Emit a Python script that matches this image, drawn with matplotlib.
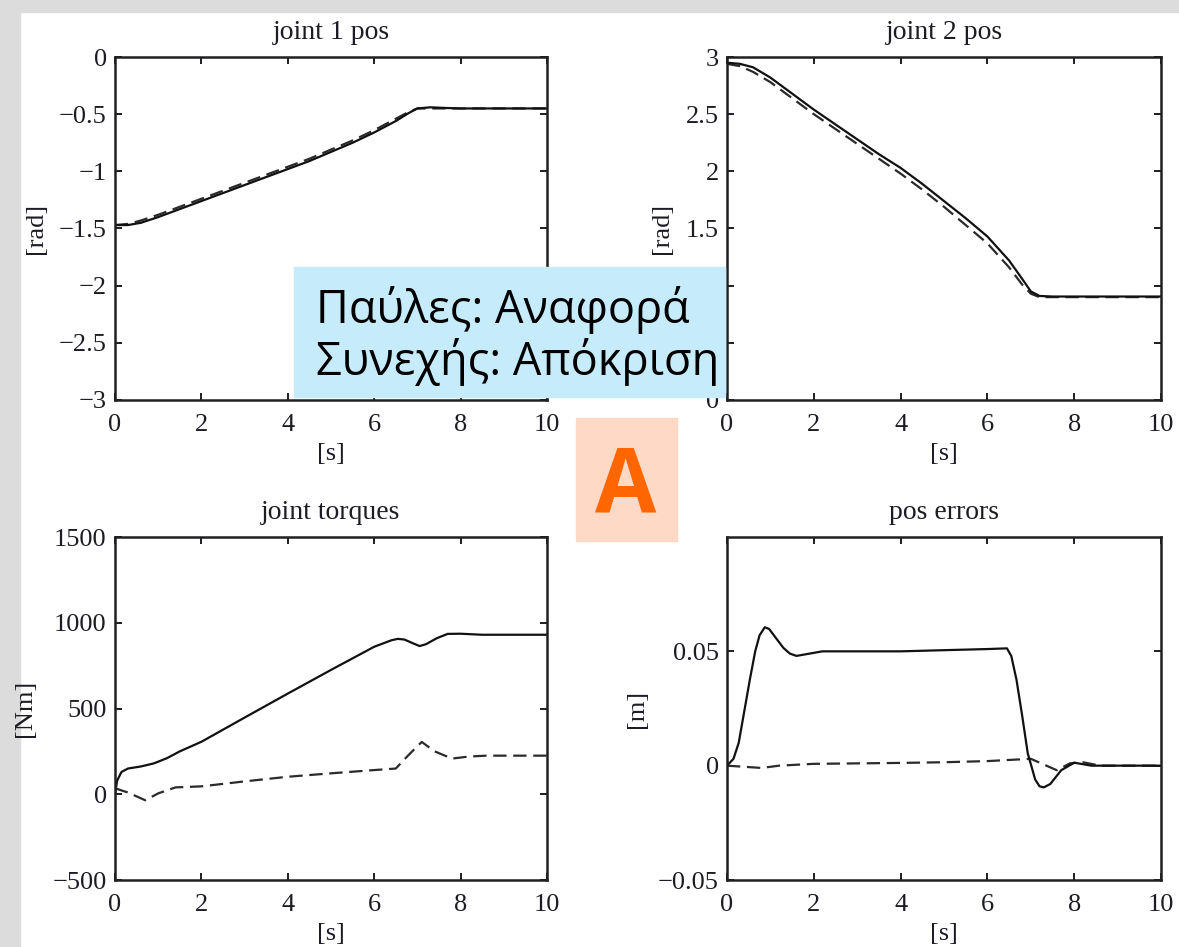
import numpy as np
import matplotlib
matplotlib.use("Agg")
import matplotlib.pyplot as plt
from matplotlib.patches import Rectangle
from matplotlib.ticker import FuncFormatter

W, H = 1179, 947

# joint 1 position [rad]
t_j1 = [0, 0.3, 0.6, 1.0, 1.5, 2.0, 2.5, 3.0, 3.5, 4.0, 4.5, 5.0, 5.5, 6.0, 6.5, 6.8, 7.0, 7.3, 7.6, 8.0, 10]
j1_resp = [-1.47, -1.47, -1.45, -1.40, -1.33, -1.26, -1.19, -1.12, -1.05, -0.98, -0.91, -0.83, -0.75, -0.66,
           -0.56, -0.49, -0.45, -0.44, -0.445, -0.45, -0.45]
j1_ref = [-1.47, -1.46, -1.43, -1.38, -1.31, -1.24, -1.17, -1.10, -1.03, -0.96, -0.89, -0.81, -0.73, -0.64,
          -0.54, -0.48, -0.45, -0.45, -0.45, -0.45, -0.45]

# joint 2 position [rad]
t_j2 = [0, 0.3, 0.6, 1.0, 1.5, 2.0, 2.5, 3.0, 3.5, 4.0, 4.5, 5.0, 5.5, 6.0, 6.5, 6.8, 7.0, 7.2, 7.5, 8.0, 10]
j2_resp = [2.95, 2.94, 2.91, 2.82, 2.68, 2.54, 2.41, 2.28, 2.15, 2.03, 1.89, 1.74, 1.59, 1.43, 1.22, 1.06,
           0.95, 0.91, 0.905, 0.905, 0.905]
j2_ref = [2.94, 2.92, 2.87, 2.78, 2.64, 2.50, 2.37, 2.24, 2.11, 1.98, 1.84, 1.69, 1.53, 1.37, 1.16, 1.01,
          0.93, 0.90, 0.90, 0.90, 0.90]

# joint torques [Nm]
t_tq1 = [0, 0.05, 0.15, 0.3, 0.6, 0.9, 1.2, 1.5, 2, 3, 4, 5, 6, 6.4, 6.55, 6.7, 6.9, 7.05, 7.2, 7.45, 7.7, 8.0, 8.5, 10]
tq1 = [0, 80, 130, 150, 162, 180, 210, 250, 306, 447, 587, 725, 860, 898, 906, 902, 880, 864, 875, 910,
       935, 936, 930, 930]
t_tq2 = [0, 0.3, 0.7, 1.0, 1.4, 2, 3, 4, 5, 6, 6.5, 6.8, 7.1, 7.4, 7.8, 8.2, 8.6, 10]
tq2 = [35, 10, -35, 5, 40, 46, 75, 102, 122, 141, 150, 230, 305, 250, 208, 220, 225, 225]

# position errors [m]
t_e1 = [0, 0.15, 0.27, 0.4, 0.53, 0.65, 0.75, 0.87, 0.97, 1.1, 1.3, 1.45, 1.6, 1.9, 2.2, 3, 4, 5, 6, 6.45,
        6.55, 6.67, 6.8, 6.93, 7.1, 7.2, 7.3, 7.45, 7.7, 8.0, 8.4, 10]
e1 = [0, 0.003, 0.010, 0.024, 0.038, 0.050, 0.057, 0.0605, 0.0598, 0.0565, 0.0515, 0.049, 0.048, 0.049,
      0.050, 0.050, 0.050, 0.0505, 0.051, 0.0513, 0.048, 0.0376, 0.022, 0.0054, -0.006, -0.009, -0.0095,
      -0.008, -0.002, 0.0013, 0.0, 0.0]
t_e2 = [0, 0.4, 0.8, 1.2, 2, 3, 4, 5, 6, 6.5, 7.0, 7.3, 7.6, 7.9, 8.2, 8.6, 10]
e2 = [0, -0.0005, -0.001, 0.0, 0.0008, 0.001, 0.0012, 0.0015, 0.002, 0.0025, 0.003, 0.0005, -0.002,
      0.001, 0.0015, 0.0, 0.0]

plt.rcParams['font.family'] = ['Liberation Serif', 'DejaVu Serif']

fig = plt.figure(figsize=(W / 100, H / 100), dpi=100, facecolor='white')

def px_axes(x0, y0, x1, y1):
    # pixel box -> figure fraction rect
    return [x0 / W, 1 - y1 / H, (x1 - x0) / W, (y1 - y0) / H]

ink = '#1c1c24'

# MATLAB-ish tick labels, real minus sign
def fmt(v, pos):
    return ('%g' % v).replace('-', '\u2212')

def style(ax, title, ylab, ylim, yticks, ylab_x, hide=()):
    ax.set_xlim(0, 10)
    ax.set_ylim(*ylim)
    ax.set_xticks([0, 2, 4, 6, 8, 10])
    ax.set_yticks(yticks)
    ax.yaxis.set_major_formatter(FuncFormatter(lambda v, p: '' if v in hide else fmt(v, p)))
    ax.tick_params(direction='in', top=True, right=True, length=5, width=1.4,
                   labelsize=19, colors=ink)
    ax.tick_params(axis='x', pad=10)
    ax.tick_params(axis='y', pad=6)
    for s in ax.spines.values():
        s.set_linewidth(1.8)
        s.set_color('#202020')
    ax.set_title(title, fontsize=20, pad=13, color=ink)
    ax.set_xlabel('[s]', fontsize=19, color=ink)
    ax.xaxis.set_label_coords(0.5, -0.125)
    ax.set_ylabel(ylab, fontsize=19, color=ink)
    ax.yaxis.set_label_coords(ylab_x, 0.5)

def draw(ax, t_a, a, t_b, b):
    ax.plot(t_b, b, color='#2a2a2a', lw=1.6, dashes=(6, 3))
    ax.plot(t_a, a, color='#111111', lw=1.6)

# paper border at left and top
fig.patches.append(Rectangle((0, 0), 20 / W, 1, transform=fig.transFigure, color='#dcdcdc', zorder=-5))
fig.patches.append(Rectangle((0, 1 - 12 / H), 1, 12 / H, transform=fig.transFigure, color='#dcdcdc', zorder=-5))

ax1 = fig.add_axes(px_axes(115, 57, 547, 400))
draw(ax1, t_j1, j1_resp, t_j1, j1_ref)
style(ax1, 'joint 1 pos', '[rad]', (-3, 0), [-3, -2.5, -2, -1.5, -1, -0.5, 0], -0.157)

ax2 = fig.add_axes(px_axes(727, 57, 1161, 400))
draw(ax2, t_j2, j2_resp, t_j2, j2_ref)
# labels 0.5 and 1 sit under the note box in the original
style(ax2, 'joint 2 pos', '[rad]', (0, 3), [0, 0.5, 1, 1.5, 2, 2.5, 3], -0.124, hide=(0.5, 1))

ax3 = fig.add_axes(px_axes(115, 537, 547, 880))
draw(ax3, t_tq1, tq1, t_tq2, tq2)
style(ax3, 'joint torques', '[Nm]', (-500, 1500), [-500, 0, 500, 1000, 1500], -0.183)

ax4 = fig.add_axes(px_axes(727, 537, 1161, 880))
draw(ax4, t_e1, e1, t_e2, e2)
style(ax4, 'pos errors', '[m]', (-0.05, 0.1), [-0.05, 0, 0.05], -0.182)

# overlay boxes
fig.patches.append(Rectangle((294 / W, 1 - 397 / H), (725 - 294) / W, (397 - 267) / H,
                             transform=fig.transFigure, color='#c6ecfc', zorder=10))
fig.text(316 / W, 1 - 323 / H, 'Παύλες: Αναφορά', fontsize=32.5, family=['Open Sans', 'DejaVu Sans'],
         color='black', va='baseline', zorder=11)
fig.text(316 / W, 1 - 375 / H, 'Συνεχής: Απόκριση', fontsize=32.5, family=['Open Sans', 'DejaVu Sans'],
         color='black', va='baseline', zorder=11)

fig.patches.append(Rectangle((576 / W, 1 - 541 / H), (677 - 576) / W, (541 - 418) / H,
                             transform=fig.transFigure, color='#fdd9c6', zorder=10))
fig.text(626 / W, 1 - 511 / H, 'A', fontsize=64, fontweight='bold', family=['Open Sans', 'DejaVu Sans'],
         color='#ff6600', ha='center', va='baseline', zorder=11)

fig.savefig('out.png', dpi=100, facecolor='white')
